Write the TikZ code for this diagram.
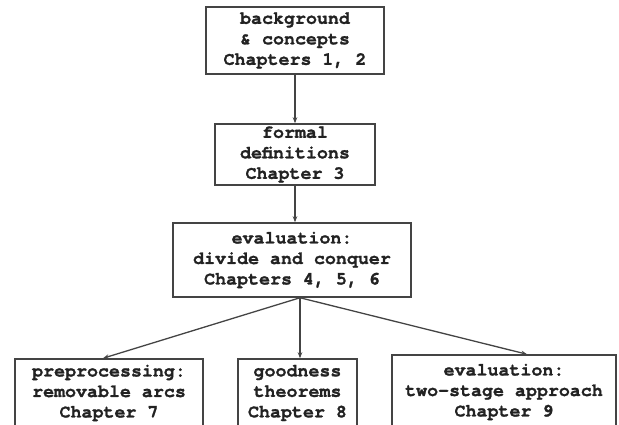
\documentclass[tikz,border=0pt]{standalone}
\usepackage{fontspec}
\setmonofont[BoldFeatures={FakeBold=1.3}]{TeX Gyre Cursor}
\usetikzlibrary{arrows.meta}
\definecolor{ink}{HTML}{222222}
\definecolor{boxline}{HTML}{444444}
\begin{document}
\begin{tikzpicture}[x=1pt,y=-1pt,
  box/.style={draw=boxline, line width=1.5pt, fill=white, text=ink,
    font=\ttfamily\bfseries\fontsize{18.3}{20.5}\selectfont,
    align=center, inner sep=0pt},
  link/.style={draw=boxline, line width=1.3pt,
    -{Stealth[length=6pt,width=4.5pt]}}]
\useasboundingbox (0,0) rectangle (619,425);
\clip (0,0) rectangle (619,425);

% chapter boxes
\node[box, minimum width=178, minimum height=67] (bg)   at (295,40.5)  {background\\\& concepts\\Chapters 1, 2};
\node[box, minimum width=160, minimum height=61] (defs) at (295,154.5) {formal\\definitions\\Chapter 3};
\node[box, minimum width=238, minimum height=74] (dc)   at (292,260)   {evaluation:\\divide and conquer\\Chapters 4, 5, 6};
\node[box, minimum width=188, minimum height=68] (pre)  at (109,393)   {preprocessing:\\removable arcs\\Chapter 7};
\node[box, minimum width=119, minimum height=68] (good) at (297.5,393) {goodness\\theorems\\Chapter 8};
\node[box, minimum width=224, minimum height=74] (two)  at (504,392)   {evaluation:\\two-stage approach\\Chapter 9};

% connectors
\coordinate (hub) at ([xshift=8]dc.south);
\draw[link] (bg.south) -- (defs.north);
\draw[link] (defs.south) -- (defs.south |- dc.north);
\draw[link] (hub) -- ([xshift=-6]pre.north);
\draw[link] (hub) -- (hub |- good.north);
\draw[link] (hub) -- ([xshift=23]two.north);
\end{tikzpicture}
\end{document}
